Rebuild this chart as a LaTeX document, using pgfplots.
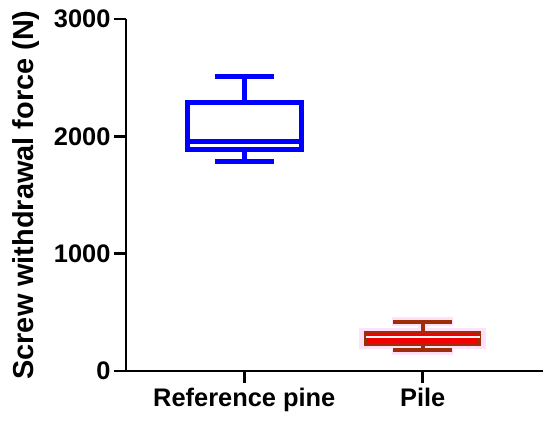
\documentclass[border=0pt]{standalone}
\usepackage{fontspec}
\setmainfont{Liberation Sans}
\usepackage{pgfplots}
\pgfplotsset{compat=1.18}
\usepgfplotslibrary{statistics}
\definecolor{boxblue}{RGB}{0,0,255}
\definecolor{boxred}{RGB}{240,0,0}
\definecolor{boxbrown}{RGB}{160,45,10}
\definecolor{halo}{RGB}{255,225,250}

\begin{document}
\begin{tikzpicture}
\begin{axis}[
  at={(0,0)}, anchor=south west,
  scale only axis, width=417bp, height=352bp,
  xmin=-0.663, xmax=1.674, ymin=0, ymax=3000,
  axis x line*=bottom, axis y line*=left,
  axis line style={line width=2.6bp, black},
  xtick={0,1}, xticklabels={Reference pine, Pile},
  ytick={0,1000,2000,3000},
  tick style={line width=2.6bp, black},
  tick align=outside, major tick length=12bp,
  /pgf/number format/assume math mode=true,
  /pgf/number format/1000 sep={},
  tick label style={font=\fontsize{25.5}{27}\selectfont\bfseries},
  xticklabel style={yshift=-2bp},
  ylabel={Screw withdrawal force (N)},
  ylabel style={font=\fontsize{29}{31}\selectfont\bfseries, yshift=8bp},
  boxplot/draw direction=y,
  clip=false]
% Reference pine
\addplot+[boxplot prepared={lower whisker=1789, lower quartile=1885,
  median=1960, upper quartile=2285, upper whisker=2513,
  draw position=0, box extend=0.64, whisker extend=0.33},
  draw=boxblue, line width=5bp, mark=none, fill=none]
  coordinates {};
% Pile
\addplot+[boxplot prepared={lower whisker=176, lower quartile=222,
  median=290, upper quartile=330, upper whisker=420,
  draw position=1, box extend=0.66, whisker extend=0.34},
  draw=halo, line width=9bp, mark=none, fill=halo]
  coordinates {};
\addplot+[boxplot prepared={lower whisker=176, lower quartile=222,
  median=290, upper quartile=330, upper whisker=420,
  draw position=1, box extend=0.64, whisker extend=0.33},
  draw=boxbrown, line width=3bp, mark=none, fill=boxred,
  boxplot/every median/.style={draw=white!85!pink, line width=2bp},
  boxplot/every whisker/.style={draw=boxbrown, line width=4bp}]
  coordinates {};
\end{axis}
\pgfresetboundingbox
\path (-126bp,-56bp) rectangle (424bp,371bp);
\end{tikzpicture}
\end{document}
